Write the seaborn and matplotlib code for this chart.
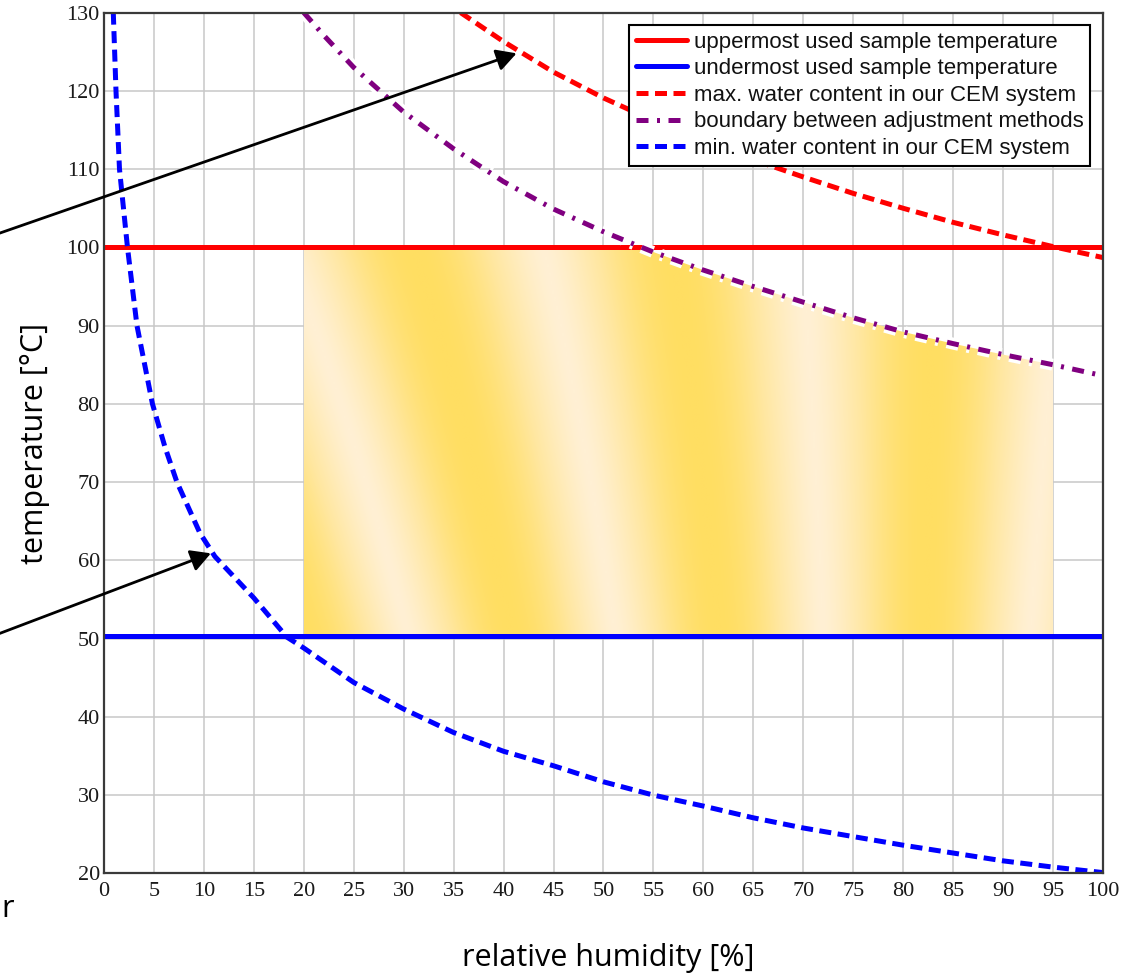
import numpy as np
import matplotlib
matplotlib.use("Agg")
import matplotlib.pyplot as plt
import matplotlib.patheffects as pe
from matplotlib.colors import LinearSegmentedColormap
from matplotlib.patches import PathPatch
import seaborn as sns

# temperature limits of the used samples [°C]
T_UPPER = 100.0
T_LOWER = 50.3

# used humidity range [%]
RH_FILL_LO = 20.0
RH_FILL_HI = 95.0

# max. water content in our CEM system
rh_max = [35.7, 40, 45, 50, 55, 60, 65, 70, 75, 80, 85, 90, 95, 100]
t_max = [130, 126.3, 122.4, 119.1, 116.2, 113.6, 111.2, 109.0, 106.9, 105.0, 103.2, 101.6, 100.1, 98.7]

# boundary between adjustment methods
rh_bnd = [20, 22, 25, 30, 35, 40, 45, 50, 55, 60, 65, 70, 75, 80, 85, 90, 95, 100]
t_bnd = [130, 127.1, 123.0, 117.3, 112.6, 108.4, 104.9, 102.0, 99.4, 97.1, 95.0, 93.0, 91.0,
         89.2, 87.7, 86.3, 85.0, 83.6]

# min. water content in our CEM system
rh_min = [0.93, 1.2, 1.55, 2.35, 3.3, 4.85, 6.1, 7.3, 9.6, 11.1, 15, 18.3, 20, 25, 30, 35, 40,
          45, 50, 55, 60, 65, 70, 75, 80, 85, 90, 95, 100]
t_min = [130, 120, 110, 100, 90, 80, 74.5, 70, 63.5, 60.5, 55.2, 50.2, 48.8, 44.4, 41.0, 38.0,
         35.6, 33.75, 31.7, 30.0, 28.6, 27.1, 25.8, 24.7, 23.6, 22.6, 21.6, 20.8, 20.1]

x_ticks = list(range(0, 101, 5))
y_ticks = list(range(20, 131, 10))

sns.set_theme(style="whitegrid")
plt.rcParams["font.family"] = ["Liberation Sans", "DejaVu Sans"]

fig, ax = plt.subplots(figsize=(11.28, 9.73), dpi=100)
fig.subplots_adjust(left=0.0922, right=0.9778, bottom=0.1024, top=0.987)
ax.set_facecolor("white")

# shaded working area: between the sample temperatures, below the boundary curve
xf = np.linspace(RH_FILL_LO, RH_FILL_HI, 300)
top = np.minimum(T_UPPER, np.interp(xf, rh_bnd, t_bnd))
poly = ax.fill_between(xf, T_LOWER, top, color="none", lw=0)
clip = PathPatch(poly.get_paths()[0], transform=ax.transData, fc="none", ec="none")
ax.add_patch(clip)

# soft striped golden texture (style only)
gx, gy = np.meshgrid(np.linspace(0, 750, 400), np.linspace(0, 390, 220))
phase = (gx - gy / 2.6 + 0.25 * gx * gy / 390) / 260.0
tex = 0.5 + 0.5 * np.cos(2 * np.pi * (phase - 0.42))
tex = tex ** 0.7
cmap = LinearSegmentedColormap.from_list("gold", ["#FFF0D4", "#FFE7A0", "#FFDE62"])
im = ax.imshow(tex, extent=[RH_FILL_LO, RH_FILL_HI, T_LOWER, T_UPPER], origin="upper",
               cmap=cmap, aspect="auto", interpolation="bilinear", zorder=1)
im.set_clip_path(clip)

lw = 3.6
h1 = ax.axhline(T_UPPER, color="#FF0000", lw=lw, zorder=3)
h2 = ax.axhline(T_LOWER, color="#0000FF", lw=lw, zorder=3)
sns.lineplot(x=rh_max, y=t_max, ax=ax, sort=False, estimator=None, color="#FF0000",
             lw=lw, linestyle=(0, (2.4, 1.3)), zorder=4)
sns.lineplot(x=rh_bnd, y=t_bnd, ax=ax, sort=False, estimator=None, color="#800080",
             lw=lw, linestyle=(0, (2.4, 1.7, 0.6, 1.7)), zorder=4,
             path_effects=[pe.Stroke(linewidth=lw + 5, foreground="white"), pe.Normal()])
sns.lineplot(x=rh_min, y=t_min, ax=ax, sort=False, estimator=None, color="#0000FF",
             lw=lw, linestyle=(0, (2.4, 1.3)), zorder=4)
lines = ax.get_lines()
handles = [h1, h2, lines[2], lines[3], lines[4]]
labels = ["uppermost used sample temperature", "undermost used sample temperature",
          "max. water content in our CEM system", "boundary between adjustment methods",
          "min. water content in our CEM system"]

ax.set_xlim(0, 100)
ax.set_ylim(20, 130)
ax.set_xticks(x_ticks)
ax.set_yticks(y_ticks)
ax.grid(True, color="#C8C8C8", lw=1.1)
ax.set_axisbelow(True)
for s in ax.spines.values():
    s.set_color("#3A3A3A")
    s.set_linewidth(1.6)
    s.set_zorder(6)
ax.tick_params(length=0, pad=6, labelsize=16, labelcolor="#1A1A1A")
for t in ax.get_xticklabels() + ax.get_yticklabels():
    t.set_fontfamily("Liberation Serif")
ax.tick_params(axis="y", pad=3)

leg = ax.legend(handles, labels, loc="upper right", bbox_to_anchor=(0.987, 0.9857),
                borderaxespad=0, frameon=True, fancybox=False, framealpha=1,
                edgecolor="black", handlelength=2.3, handletextpad=0.3,
                labelspacing=0.25, borderpad=0.3, prop={"family": "Liberation Sans", "size": 16})
leg.get_frame().set_linewidth(1.5)
leg.set_zorder(7)
for h in leg.legend_handles:
    h.set_path_effects([])
for t in leg.get_texts():
    t.set_color("#111111")

ax.set_xlabel("relative humidity [%]", fontsize=22, family="Open Sans", color="black")
ax.set_ylabel("temperature [°C]", fontsize=22, family="Open Sans", color="black")
ax.xaxis.set_label_coords(0.505, -0.081)
ax.yaxis.set_label_coords(-0.054, 0.5)

# pointer arrows coming from outside the figure
arrow = dict(arrowstyle="-|>,head_length=0.4,head_width=0.22", mutation_scale=30,
             color="black", lw=2, shrinkA=0, shrinkB=0)
ax.annotate("", xy=(41.3, 124.8), xycoords="data", xytext=(-10, 736.5),
            textcoords="figure pixels", arrowprops=arrow, annotation_clip=False, zorder=8)
ax.annotate("", xy=(10.7, 60.9), xycoords="data", xytext=(-10, 335.9),
            textcoords="figure pixels", arrowprops=arrow, annotation_clip=False, zorder=8)

fig.text(0.001, 56 / 973, "r", fontsize=22, family="Open Sans", color="black", va="baseline")

fig.savefig("out.png", dpi=100)
plt.close(fig)
